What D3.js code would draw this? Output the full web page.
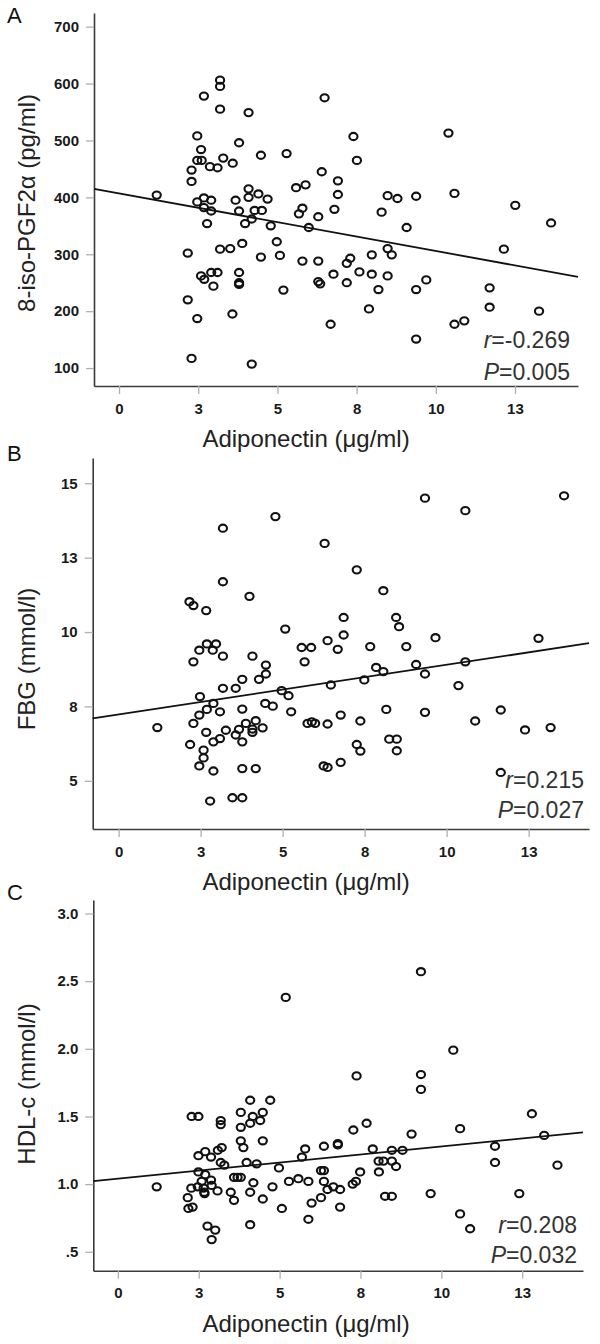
<!DOCTYPE html>
<html><head><meta charset="utf-8">
<script src="https://cdn.jsdelivr.net/npm/d3@7"></script>
<style>
html,body{margin:0;padding:0;background:#fff;}
svg{display:block;font-family:"Liberation Sans",Arial,sans-serif;}
</style></head>
<body>
<svg id="chart" width="600" height="1344"></svg>
<script>
// ---------- DATA ----------
const xTickValues = [0, 2.5, 5, 7.5, 10, 12.5];
const xTickLabels = ["0", "3", "5", "8", "10", "13"];

// Panel A: Adiponectin vs 8-iso-PGF2α
const adipoA = [1.19,3.19,3.19,2.68,3.19,4.09,2.47,3.79,2.59,2.47,2.61,3.29,3.59,2.87,3.11,2.29,2.29,4.48,5.29,
  2.47,2.68,2.91,2.68,2.91,2.78,3.68,4.09,4.09,4.40,4.69,3.79,4.28,4.51,4.19,3.98,4.79,
  2.17,3.19,3.51,3.89,4.98,4.48,5.08,2.59,2.69,2.91,3.11,2.98,3.79,3.79,3.79,5.19,2.17,2.47,3.58,2.29,4.19,
  6.49,7.40,7.51,6.40,6.91,6.91,5.59,5.89,6.80,5.79,5.68,6.29,5.99,
  8.48,8.79,9.38,8.29,9.08,10.40,10.59,
  5.79,6.29,7.19,7.30,7.98,8.48,8.61,6.77,6.29,6.35,7.19,7.59,7.98,8.48,8.19,9.38,9.70,7.89,6.68,9.38,10.59,10.90,11.70,11.70,
  12.15,12.51,13.64,13.26];
const isoPGF = [404,606,595,578,555,549,508,496,484,465,465,469,460,454,452,448,428,474,477,
  392,399,395,382,376,354,395,415,400,406,397,376,377,377,362,354,350,
  302,309,310,319,322,295,298,262,256,268,268,244,268,250,247,237,220,187,195,117,107,
  575,507,465,445,429,405,417,422,379,381,371,366,347,
  403,398,402,374,347,513,407,
  288,288,284,293,299,310,299,265,252,248,250,269,265,262,238,238,255,204,177,151,177,183,241,207,
  309,386,355,200];
const isoTicks = [100, 200, 300, 400, 500, 600, 700];
const isoTickLabels = ["100", "200", "300", "400", "500", "600", "700"];

// Panel B: Adiponectin vs FBG
const adipoB = [1.18,3.18,4.78,3.18,3.99,2.16,2.28,2.67,5.08,2.46,2.69,2.97,2.87,2.28,3.18,4.08,4.49,4.49,4.28,3.77,3.57,3.18,4.97,5.18,2.48,2.89,2.69,2.46,2.28,3.09,3.77,4.47,4.70,5.26,2.67,2.89,3.09,3.27,3.57,3.77,3.67,3.88,4.08,4.18,4.39,4.08,2.18,2.59,2.59,2.46,2.89,3.77,4.18,2.79,3.47,3.77,
  9.34,10.57,6.28,7.26,8.07,6.86,8.46,8.55,6.86,6.37,6.68,5.58,5.87,5.67,7.67,8.77,9.66,
  7.85,8.07,9.07,9.34,10.57,7.49,6.47,10.36,
  5.76,5.89,5.99,6.37,6.77,7.37,8.16,9.34,10.87,11.65,7.26,7.37,8.25,8.48,8.48,6.25,6.37,6.77,11.65,
  13.58,12.80,12.39,13.17];
const fbg = [6.79,13.49,13.88,11.69,11.20,11.02,10.89,10.72,10.10,9.39,9.60,9.60,9.39,9.00,9.19,9.19,8.89,8.59,8.41,8.41,8.11,8.11,8.03,7.86,7.83,7.60,7.40,7.21,6.93,7.32,7.41,7.60,7.51,7.32,6.63,6.31,6.42,6.70,6.54,6.31,6.73,6.93,6.63,7.02,6.78,6.74,6.22,6.03,5.77,5.50,5.33,5.41,5.41,4.32,4.43,4.43,
  14.50,14.08,12.98,12.09,11.39,10.49,10.49,10.18,9.90,9.71,9.42,9.48,9.48,9.00,9.51,9.51,9.81,
  8.81,8.67,8.91,8.59,9.00,8.39,8.22,8.20,
  6.93,6.98,6.93,6.91,7.21,7.01,7.40,7.30,7.01,7.38,6.22,6.00,6.40,6.40,6.01,5.50,5.45,5.62,5.28,
  14.58,9.79,6.71,6.79];
const fbgTicks = [5, 7.5, 10, 12.5, 15];
const fbgTickLabels = ["5", "8", "10", "13", "15"];

// Panel C: Adiponectin vs HDL-c
const adipoC = [1.20,5.19,4.09,4.71,2.28,2.49,3.18,3.18,3.80,4.17,4.09,4.40,4.48,3.80,3.80,3.88,4.48,2.49,2.70,2.88,3.09,3.21,3.18,3.29,3.98,4.29,4.98,2.49,2.70,2.88,2.59,2.27,2.47,2.67,2.90,3.08,2.16,2.18,2.31,2.65,2.68,3.59,3.70,3.80,4.19,4.09,3.49,3.59,4.48,4.78,5.07,5.29,2.77,3.01,2.90,4.09,
  9.37,10.37,7.38,9.37,9.37,7.28,7.69,9.08,10.58,11.66,11.66,5.79,5.69,6.37,6.80,6.80,7.88,8.47,8.80,8.06,8.21,8.47,8.60,8.07,5.58,5.89,6.28,6.37,6.37,6.48,6.28,5.99,6.66,6.87,6.87,7.26,7.36,7.49,5.89,8.26,8.47,9.67,10.58,10.89,
  12.80,13.18,13.59,12.41];
const hdl = [0.98,2.38,1.62,1.62,1.50,1.50,1.47,1.44,1.53,1.50,1.45,1.47,1.53,1.42,1.32,1.27,1.32,1.21,1.24,1.20,1.25,1.27,1.16,1.14,1.16,1.15,1.12,1.09,1.07,1.03,1.02,0.97,0.98,0.94,0.99,0.95,0.90,0.82,0.83,0.97,0.93,1.05,1.05,1.05,1.01,0.94,0.94,0.88,0.89,0.98,0.82,1.02,0.69,0.66,0.59,0.70,
  2.57,1.99,1.80,1.81,1.70,1.40,1.45,1.37,1.41,1.28,1.16,1.26,1.20,1.28,1.30,1.29,1.26,1.25,1.25,1.17,1.17,1.17,1.13,1.09,1.04,1.02,1.10,1.10,1.02,0.96,0.90,0.86,0.98,0.96,0.83,1.00,1.02,1.09,0.74,0.91,0.91,0.93,0.78,0.67,
  1.52,1.36,1.14,0.93];
const hdlTicks = [0.5, 1.0, 1.5, 2.0, 2.5, 3.0];
const hdlTickLabels = [".5", "1.0", "1.5", "2.0", "2.5", "3.0"];

// Fit lines (intercept, slope) and statistics
const fitIntercepts = [407, 7.23, 1.040];
const fitSlopes = [-10.12, 0.167, 0.0238];
const rValues = ["-0.269", "0.215", "0.208"];
const pValues = ["0.005", "0.027", "0.032"];
const panelLetters = ["A", "B", "C"];
const yTitles = ["8-iso-PGF2α (pg/ml)", "FBG (mmol/l)", "HDL-c (mmol/l)"];
const xTitle = "Adiponectin (μg/ml)";

// ---------- LAYOUT ----------
const panels = [
  {xs: adipoA, ys: isoPGF, yTicks: isoTicks, yLabels: isoTickLabels,
   left: 94, right: 578, top: 13, bottom: 386, xDom: [-0.79, 14.49], yDom: [68.5, 724],
   letterY: 23, yTitleCY: 203, statRight: 570, statY: [348, 380]},
  {xs: adipoB, ys: fbg, yTicks: fbgTicks, yLabels: fbgTickLabels,
   left: 92.7, right: 589, top: 458, bottom: 829, xDom: [-0.79, 14.34], yDom: [3.38, 15.85],
   letterY: 461, yTitleCY: 659, statRight: 584, statY: [788, 818]},
  {xs: adipoC, ys: hdl, yTicks: hdlTicks, yLabels: hdlTickLabels,
   left: 93.3, right: 583, top: 900, bottom: 1270.7, xDom: [-0.76, 14.38], yDom: [0.36, 3.10],
   letterY: 900, yTitleCY: 1084, statRight: 577, statY: [1233, 1263]}
];

const svg = d3.select("#chart");

panels.forEach((p, i) => {
  const x = d3.scaleLinear().domain(p.xDom).range([p.left, p.right]);
  const y = d3.scaleLinear().domain(p.yDom).range([p.bottom, p.top]);
  const g = svg.append("g");

  // axes
  const ax = g.append("g").attr("transform", `translate(0,${p.bottom})`)
    .call(d3.axisBottom(x).tickValues(xTickValues)
      .tickFormat((d, k) => xTickLabels[k]).tickSizeInner(8).tickSizeOuter(0).tickPadding(9));
  const ay = g.append("g").attr("transform", `translate(${p.left},0)`)
    .call(d3.axisLeft(y).tickValues(p.yTicks)
      .tickFormat((d, k) => p.yLabels[k]).tickSizeInner(8).tickSizeOuter(0).tickPadding(7));
  [ax, ay].forEach(a => {
    a.select(".domain").attr("stroke", "#3a3a3a").attr("stroke-width", 1.6);
    a.selectAll(".tick line").attr("stroke", "#b0b0b0").attr("stroke-width", 1.3);
    a.selectAll(".tick text").attr("fill", "#1a1a1a").attr("font-size", 15)
      .attr("font-weight", "bold").attr("font-family", "'Liberation Sans',Arial,sans-serif");
  });

  // regression line
  const line = d3.line().x(d => x(d)).y(d => y(fitIntercepts[i] + fitSlopes[i] * d));
  g.append("path").datum(p.xDom).attr("d", line)
    .attr("fill", "none").attr("stroke", "#111").attr("stroke-width", 1.8);

  // points
  g.append("g").selectAll("ellipse").data(p.xs.map((v, k) => [v, p.ys[k]])).join("ellipse")
    .attr("cx", d => x(d[0])).attr("cy", d => y(d[1]))
    .attr("rx", 4.1).attr("ry", 3.6)
    .attr("fill", "none").attr("stroke", "#111").attr("stroke-width", 2.1);

  // panel letter
  g.append("text").attr("x", 7).attr("y", p.letterY).attr("font-size", 22)
    .attr("fill", "#111").text(panelLetters[i]);

  // axis titles
  g.append("text").attr("x", 306).attr("y", p.bottom + 61).attr("text-anchor", "middle")
    .attr("font-size", 24).attr("fill", "#222").text(xTitle);
  g.append("text").attr("transform", `translate(35,${p.yTitleCY}) rotate(-90)`)
    .attr("text-anchor", "middle").attr("font-size", 24).attr("fill", "#222").text(yTitles[i]);

  // stats
  const t1 = g.append("text").attr("x", p.statRight).attr("y", p.statY[0])
    .attr("text-anchor", "end").attr("font-size", 23).attr("fill", "#333");
  t1.append("tspan").attr("font-style", "italic").text("r");
  t1.append("tspan").text("=" + rValues[i]);
  const t2 = g.append("text").attr("x", p.statRight).attr("y", p.statY[1])
    .attr("text-anchor", "end").attr("font-size", 23).attr("fill", "#333");
  t2.append("tspan").attr("font-style", "italic").text("P");
  t2.append("tspan").text("=" + pValues[i]);
});
</script>
</body></html>
